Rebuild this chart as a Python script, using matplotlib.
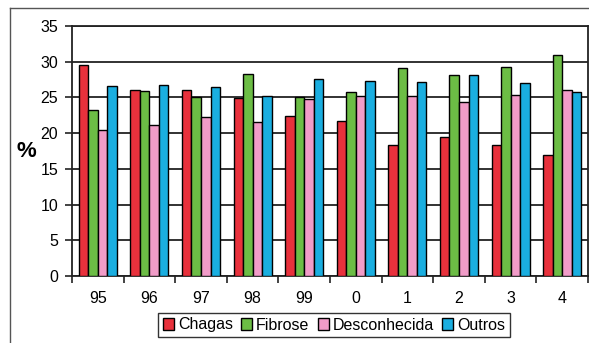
import matplotlib
matplotlib.use("Agg")
import matplotlib.pyplot as plt
from matplotlib.lines import Line2D
import numpy as np

plt.rcParams['font.family'] = ['Liberation Sans', 'DejaVu Sans']

years = ["95", "96", "97", "98", "99", "0", "1", "2", "3", "4"]
series_names = ["Chagas", "Fibrose", "Desconhecida", "Outros"]
chagas = [29.5, 26.0, 26.1, 24.9, 22.4, 21.7, 18.4, 19.4, 18.3, 16.9]
fibrose = [23.3, 25.9, 25.0, 28.3, 25.1, 25.8, 29.1, 28.1, 29.2, 30.9]
desconhecida = [20.4, 21.2, 22.2, 21.6, 24.8, 25.2, 25.2, 24.3, 25.4, 26.1]
outros = [26.6, 26.8, 26.5, 25.2, 27.6, 27.3, 27.1, 28.1, 27.0, 25.8]
colors = ["#e8313c", "#6cbd45", "#f19cc8", "#1aaee0"]

fig = plt.figure(figsize=(5.89, 3.43), dpi=100)
ax = fig.add_axes([72 / 589, 67 / 343, 516 / 589, 250 / 343])

x = np.arange(len(years))
bw = 0.185
for i, (vals, c, name) in enumerate(zip([chagas, fibrose, desconhecida, outros], colors, series_names)):
    ax.bar(x + (i - 1.5) * bw, vals, bw, color=c, edgecolor="black", linewidth=1.0,
           label=name, zorder=3)

ax.set_xlim(-0.5, len(years) - 0.5)
ax.set_ylim(0, 35)
ax.set_yticks(range(0, 36, 5))
ax.yaxis.grid(True, color="#222222", linewidth=1.3, zorder=0)
ax.set_axisbelow(True)

ax.set_xticks(x)
ax.set_xticklabels(years, fontsize=11.5)
ax.set_xticks(np.arange(-0.5, len(years)), minor=True)
ax.tick_params(axis="x", which="major", length=0, pad=11)
ax.tick_params(axis="x", which="minor", length=5, width=1.2, direction="out", color="#222222")
ax.tick_params(axis="y", length=5, width=1.2, direction="out", labelsize=11.5, color="#222222", pad=5)

for s in ax.spines.values():
    s.set_linewidth(1.3)
    s.set_color("#222222")

ax.set_ylabel("%", fontsize=16, fontweight="bold", rotation=0, labelpad=10, va="center")

leg = fig.legend(loc="center", bbox_to_anchor=(334 / 589, 1 - 325 / 343), ncol=4,
                 frameon=True, fancybox=False, edgecolor="black", fontsize=11.5,
                 handlelength=0.7, handleheight=0.7, handletextpad=0.25,
                 columnspacing=0.5, borderpad=0.3, borderaxespad=0)
leg.get_frame().set_linewidth(1.0)

# outer frame lines
fig.add_artist(Line2D([10 / 589, 10 / 589], [0, 1 - 8 / 343], color="#555555", linewidth=1.0))
fig.add_artist(Line2D([10 / 589, 1], [1 - 8 / 343, 1 - 8 / 343], color="#555555", linewidth=1.0))

fig.savefig("out.png", dpi=100)
